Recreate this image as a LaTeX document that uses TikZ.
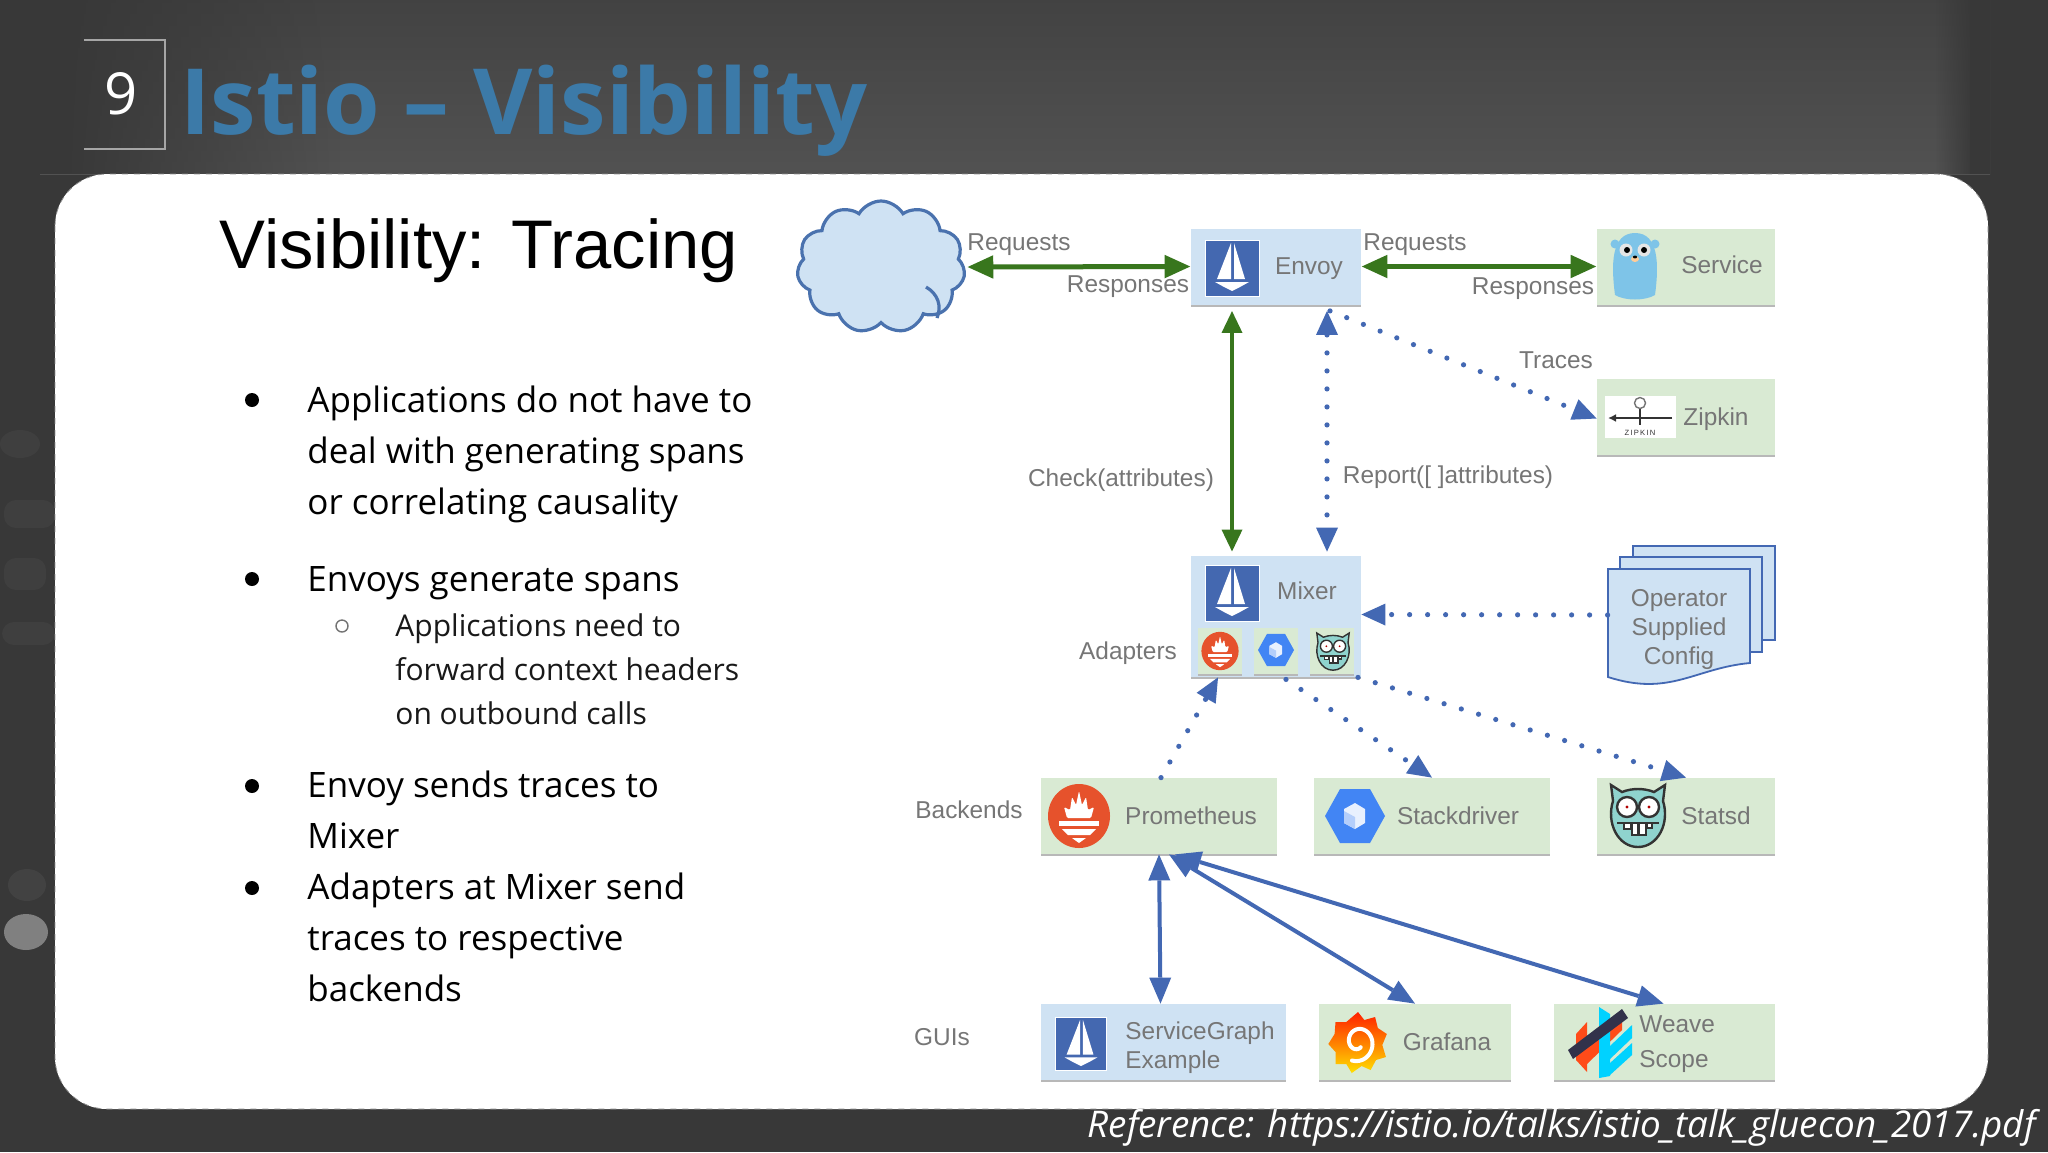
\documentclass[tikz,border=0pt]{standalone}
\usepackage{fontspec}
\setmainfont{Open Sans}
\newfontfamily\lab{Liberation Sans}
\usetikzlibrary{arrows.meta,shapes.symbols,shapes.geometric,shadows,fadings}
\definecolor{greenbox}{HTML}{D9EAD3}
\definecolor{bluebox}{HTML}{CFE2F3}
\definecolor{txtgrey}{HTML}{767676}
\definecolor{arrgreen}{HTML}{38761D}
\definecolor{arrblue}{HTML}{4368B3}
\definecolor{sailblue}{HTML}{4468B0}
\definecolor{promred}{HTML}{E6522C}
\definecolor{hexblue}{HTML}{4285F4}
\definecolor{titleblue}{HTML}{3C7AA8}
\definecolor{cloudedge}{HTML}{4A72AE}
\definecolor{gopherblue}{HTML}{7EC4E8}
\definecolor{weaveorange}{HTML}{FF4B19}
\definecolor{weavecyan}{HTML}{00D2FF}
\definecolor{weavenavy}{HTML}{32324B}
\definecolor{owlteal}{HTML}{8FD3CE}
\definecolor{bgdark}{HTML}{383838}
\definecolor{bgblob}{HTML}{3F3F3F}
\tikzset{
 boxbase/.style={rectangle,minimum width=#1,inner sep=0pt,minimum height=38pt,copy shadow={shadow xshift=0pt,shadow yshift=-1pt,fill=black!28,draw=none}},
 gbox/.style={boxbase=#1,fill=greenbox},
 bbox/.style={boxbase=#1,fill=bluebox},
 lbl/.style={font=\lab\fontsize{12.2}{14.5}\selectfont,text=txtgrey,inner sep=0pt},
 greenarrow/.style={draw=arrgreen,line width=2.5pt,{Triangle[length=13pt,width=11pt,fill=arrgreen]}-{Triangle[length=13pt,width=11pt,fill=arrgreen]}},
 greenv/.style={draw=arrgreen,line width=1.7pt,{Triangle[length=11pt,width=10pt,fill=arrgreen]}-{Triangle[length=11pt,width=10pt,fill=arrgreen]}},
 dottip/.tip={Triangle[length=12pt,width=11pt,fill=arrblue,line width=0pt]},
 dotline/.style={draw=arrblue,line width=2.6pt,line cap=round,dash pattern=on 0pt off 9pt,-dottip},
 bluearrow/.style={draw=arrblue,line width=2pt,{Triangle[length=13pt,width=11pt,fill=arrblue,line width=0pt]}-{Triangle[length=13pt,width=11pt,fill=arrblue,line width=0pt]}},
 bodytext/.style={font=\fontsize{17.5}{25.5}\selectfont,text=black,align=left,inner sep=0pt,anchor=north west},
 subtext/.style={font=\fontsize{15}{22.1}\selectfont,text=black!90,align=left,inner sep=0pt,anchor=north west},
}
\newcommand{\sailicon}[3]{\begin{scope}[shift={(#1,#2)},scale=#3]
 \fill[sailblue,draw=white,line width=.5pt] (-27,-28) rectangle (27,28);
 \fill[white] (-1,-25) -- (-1,11) -- (-15,11) -- cycle;
 \fill[white] (2,-25) -- (13,11) -- (2,11) -- cycle;
 \fill[white] (-17,14) -- (17,14) -- (8,19) -- (0,23) -- (-8,19) -- cycle;
\end{scope}}
\newcommand{\promicon}[3]{\begin{scope}[shift={(#1,#2)},scale=#3]
 \fill[promred] (0,0) ellipse (31 and 32);
 \fill[white,rounded corners=.6pt] (-12,2) -- (-15,-9) -- (-9,-6) -- (-7,-19) -- (-3,-11) -- (0,-25) -- (3,-11) -- (7,-19) -- (9,-6) -- (15,-9) -- (12,2) -- cycle;
 \fill[white] (-20,5) rectangle (20,10);
 \fill[white] (-17,13) -- (17,13) -- (11,19) -- (-11,19) -- cycle;
 \fill[white] (-7,22) -- (7,22) -- (0,27) -- cycle;
\end{scope}}
\newcommand{\hexicon}[3]{\begin{scope}[shift={(#1,#2)},scale=#3]
 \fill[hexblue] (-30,0) -- (-15,-27) -- (15,-27) -- (30,0) -- (15,27) -- (-15,27) -- cycle;
 \fill[white!88!hexblue] (0,-13) -- (10,-7) -- (10,7) -- (0,13) -- (-11,7) -- (-11,-7) -- cycle;
 \fill[white!60!hexblue] (-11,-5) -- (0,1) -- (0,13) -- (-11,7) -- cycle;
\end{scope}}
\newcommand{\owlicon}[4]{\begin{scope}[shift={(#1,#2)},scale=#3,line width=#4]
 \filldraw[fill=owlteal,draw=black!80] (-27,-30) -- (-16,-23) .. controls (-6,-27) and (6,-27) .. (16,-23) -- (27,-30) -- (25,-14) .. controls (32,8) and (20,32) .. (0,32) .. controls (-20,32) and (-32,8) .. (-25,-14) -- cycle;
 \filldraw[fill=white,draw=black!80] (-11,-8) circle (10);
 \filldraw[fill=white,draw=black!80] (11,-8) circle (10);
 \fill[red!70!black] (-11,-8) circle (1.6);
 \fill[red!70!black] (11,-8) circle (1.6);
 \draw[black!80] (-21,8) -- (21,8);
 \filldraw[fill=white,draw=black!80] (-14,8) rectangle (-7,14);
 \filldraw[fill=white,draw=black!80] (-6,8) rectangle (0,20);
 \filldraw[fill=white,draw=black!80] (1,8) rectangle (8,20);
 \filldraw[fill=white,draw=black!80] (9,8) rectangle (14,13);
\end{scope}}
\begin{document}
\begin{tikzpicture}[x=0.5pt,y=-0.5pt]
\useasboundingbox (0,0) rectangle (2048,1152);
% background
\fill[bgdark] (0,0) rectangle (2048,1152);
\shade[top color=black!74,bottom color=black!68] (40,0) rectangle (1990,174);
\fill[bgdark,path fading=east] (60,0) rectangle (340,174);
\fill[bgdark] (40,0) rectangle (65,174);
\fill[bgdark,path fading=west] (1935,0) rectangle (1975,174);
\fill[bgdark] (1970,0) rectangle (1990,174);
\fill[black!50] (26,932) ellipse (22 and 18);
\fill[black!74] (27,885) ellipse (19 and 16);
\fill[bgblob] (20,444) ellipse (20 and 14);
\fill[bgblob,rounded corners=6pt] (4,500) rectangle (55,528);
\fill[bgblob,rounded corners=6pt] (4,558) rectangle (46,590);
\fill[bgblob,rounded corners=6pt] (2,622) rectangle (55,645);
% header
\draw[black!35,line width=1pt] (84,40) -- (165,40) -- (165,149) -- (84,149);
\node[font=\fontsize{29}{32}\selectfont,text=white,inner sep=0pt] (slidenum) at (121,94) {9};
\node[font=\fontsize{45.7}{50}\bfseries\selectfont,text=titleblue,anchor=base west,inner sep=0pt] (title) at (180,134) {Istio – Visibility};
% panel
\fill[white,draw=black!45,dashed,line width=.4pt,rounded corners=26pt] (55,174) rectangle (1988,1109);
\node[font=\fontsize{18.4}{20}\itshape\selectfont,text=white,anchor=base east,inner sep=0pt] (refnote) at (2036,1137) {Reference: https://istio.io/talks/istio\_talk\_gluecon\_2017.pdf};
% left text
\node[font=\lab\fontsize{34.4}{38}\selectfont,text=black,anchor=base west,inner sep=0pt] (heading) at (219,268) {Visibility: Tracing};
\node[bodytext] (b1) at (307,385) {Applications do not have to\\deal with generating spans\\or correlating causality};
\node[bodytext] (b2) at (307,566) {Envoys generate spans};
\node[subtext] (b2a) at (395,613) {Applications need to\\forward context headers\\on outbound calls};
\node[bodytext] (b3) at (307,770) {Envoy sends traces to\\Mixer};
\node[bodytext] (b4) at (307,872) {Adapters at Mixer send\\traces to respective\\backends};
\fill[black] (252,400) circle (7);
\fill[black] (252,579) circle (7);
\fill[black] (252,786) circle (7);
\fill[black] (252,888) circle (7);
\draw[black!55,line width=.7pt] (342,626) circle (6);
% cloud
\node[cloud,cloud puffs=11,cloud puff arc=120,aspect=1.25,draw=cloudedge,fill=bluebox,line width=1.6pt,minimum width=84pt,minimum height=66pt,inner sep=0pt] (cloud) at (881,267) {};
\draw[cloudedge,line width=1.6pt] (926,287) .. controls (938,294) and (942,306) .. (937,318);
% boxes
\node[bbox=85pt] (envoy) at (1276,266.5) {};
\node[gbox=89pt] (service) at (1686,266.5) {};
\node[gbox=89pt] (zipkin) at (1686,416.5) {};
\node[bbox=85pt,minimum height=60.5pt] (mixer) at (1276,616.5) {};
\node[gbox=118pt] (prometheus) at (1159,816) {};
\node[gbox=118pt] (stackdriver) at (1432,816) {};
\node[gbox=89pt] (statsd) at (1686,816) {};
\node[bbox=122.5pt] (svcgraph) at (1163.5,1042) {};
\node[gbox=96pt] (grafana) at (1415,1042) {};
\node[gbox=110.5pt] (weave) at (1664.5,1042) {};
\node[gbox=22pt,minimum height=23pt] (ad1) at (1220,651) {};
\node[gbox=22pt,minimum height=23pt] (ad2) at (1276,651) {};
\node[gbox=22pt,minimum height=23pt] (ad3) at (1332,651) {};
% config pages
\filldraw[fill=bluebox,draw=arrblue,line width=.9pt] (1633,546) rectangle (1775,640);
\filldraw[fill=bluebox,draw=arrblue,line width=.9pt] (1620,557) rectangle (1762,652);
\filldraw[fill=bluebox,draw=arrblue,line width=.9pt] (1608,569) -- (1750,569) -- (1750,663) .. controls (1695,668) and (1670,697) .. (1608,677) -- cycle;
\node[lbl,align=center,minimum width=71pt,minimum height=47pt] (config) at (1679,629) {Operator\\Supplied\\Config};
\coordinate (configw) at (1606,615);
% icons
\sailicon{1232}{268}{1}
\sailicon{1232}{593}{1}
\sailicon{1081}{1044}{.96}
\promicon{1079}{816}{1}
\promicon{1220}{651}{.6}
\hexicon{1355}{816}{1}
\hexicon{1276}{650}{.6}
\owlicon{1638}{815}{1}{1.2pt}
\owlicon{1333}{651}{.6}{.7pt}
% gopher
\begin{scope}[shift={(1635,265)}]
 \fill[gopherblue] (-20,-21) circle (4.5);
 \fill[gopherblue] (20,-21) circle (4.5);
 \fill[gopherblue] (-20,30) .. controls (-24,0) and (-24,-32) .. (0,-32) .. controls (24,-32) and (24,0) .. (20,30) .. controls (10,36) and (-10,36) .. (-20,30) -- cycle;
 \fill[white!90!black] (-9,-15) circle (6.5);
 \fill[white!90!black] (9,-15) circle (6.5);
 \fill[black] (-8,-15) circle (3);
 \fill[black] (9,-15) circle (3);
 \fill[orange!40!white] (0,-6) ellipse (4 and 3);
 \fill[black] (0,-8) ellipse (2.2 and 1.4);
\end{scope}
% zipkin
\fill[white] (1605,396) rectangle (1676,438);
\draw[black!80,line width=.8pt,-{Latex[length=4pt,width=4pt]}] (1672,418) -- (1608,418);
\draw[black!80,line width=1.2pt] (1640,408) -- (1640,425);
\draw[black!55,fill=white,line width=.7pt] (1640,403) circle (5.5);
\node[font=\lab\fontsize{3.8}{4}\selectfont,text=black!80,inner sep=0pt] (ziptext) at (1640,433) {Z\,I\,P\,K\,I\,N};
% grafana
\begin{scope}[shift={(1358,1042)},xscale=.9]
\shade[top color=red!75!orange,bottom color=yellow!75!orange] (0,-30)
 -- (7,-22) -- (19,-25) -- (22,-14) -- (32,-8) -- (27,3) -- (31,15) -- (20,18) -- (14,28) -- (4,24) -- (-7,31) -- (-13,22) -- (-25,22) -- (-25,10) -- (-33,2) -- (-26,-8) -- (-25,-20) -- (-13,-20) -- cycle;
\draw[white,line width=2pt,line cap=round] plot[domain=60:470,samples=50,smooth,variable=\t] ({(4+\t/30)*cos(\t)},{(4+\t/30)*sin(\t)});
\end{scope}
% weave
\begin{scope}[shift={(1600,1042)}]
 \fill[weaveorange] (-24,-8) -- (-13,-20) -- (-13,30) -- (-24,18) -- cycle;
 \fill[weaveorange] (-13,6) -- (22,-27) -- (22,-12) -- (-13,22) -- cycle;
 \fill[weavecyan] (-1,-35) -- (10,-28) -- (10,34) -- (-1,36) -- cycle;
 \fill[weavecyan] (10,4) -- (32,-17) -- (32,-4) -- (10,17) -- cycle;
 \fill[weavecyan] (10,21) -- (32,1) -- (32,13) -- (10,33) -- cycle;
 \fill[weavenavy] (-32,8) -- (22,-33) -- (28,-24) -- (-27,17) -- cycle;
\end{scope}
% labels
\node[lbl] (tenvoy) at (1309,269) {Envoy};
\node[lbl] (tservice) at (1722,265) {Service};
\node[lbl] (tzipkin) at (1716,419) {Zipkin};
\node[lbl] (tmixer) at (1307,591) {Mixer};
\node[lbl] (tprom) at (1191,816) {Prometheus};
\node[lbl] (tstack) at (1458,816) {Stackdriver};
\node[lbl] (tstatsd) at (1716,816) {Statsd};
\node[lbl,align=left,anchor=west,font=\lab\fontsize{12.2}{14.5}\selectfont] (tsvc) at (1125,1048) {ServiceGraph\\Example};
\node[lbl] (tgraf) at (1447,1042) {Grafana};
\node[lbl,align=left,anchor=west,font=\lab\fontsize{12.2}{17.5}\selectfont] (tweave) at (1639,1044) {Weave\\Scope};
\node[lbl] (lreq1) at (1019,245) {Requests};
\node[lbl] (lres1) at (1128,287) {Responses};
\node[lbl] (lreq2) at (1415,245) {Requests};
\node[lbl] (lres2) at (1533,289) {Responses};
\node[lbl] (ltraces) at (1556,360) {Traces};
\node[lbl] (lcheck) at (1121,480) {Check(attributes)};
\node[lbl] (lreport) at (1448,477) {Report([ ]attributes)};
\node[lbl] (ladapters) at (1128,653) {Adapters};
\node[lbl] (lbackends) at (969,810) {Backends};
\node[lbl] (lguis) at (942,1037) {GUIs};
% connectors
\draw[greenarrow] (cloud.east) ++(2,0) -- (envoy.west);
\draw[greenarrow] (envoy.east) -- (service.west);
\draw[greenv] ([xshift=-22pt,yshift=-3pt]envoy.south) -- ([xshift=-22pt,yshift=2pt]mixer.north);
\draw[dotline,dottip-dottip] ([xshift=25.5pt,yshift=-3pt]envoy.south) -- ([xshift=25.5pt,yshift=2pt]mixer.north);
\draw[dotline] ([xshift=27pt,yshift=-3pt]envoy.south) -- ([yshift=-1pt]zipkin.west);
\draw[dotline] (config.west |- configw) -- ([yshift=1pt]mixer.east);
\draw[dotline] ([xshift=1pt]prometheus.north) -- ([xshift=-29pt]mixer.south);
\draw[dotline] ([xshift=5pt,yshift=-1pt]mixer.south) -- (stackdriver.north);
\draw[dotline] ([xshift=41pt]mixer.south) -- (statsd.north);
\draw[bluearrow] (prometheus.south) -- ([xshift=-1.5pt]svcgraph.north);
\draw[bluearrow] ([xshift=5pt]prometheus.south) -- (grafana.north);
\draw[bluearrow] ([xshift=8pt]prometheus.south) -- ([xshift=-.5pt]weave.north);
\end{tikzpicture}
\end{document}
